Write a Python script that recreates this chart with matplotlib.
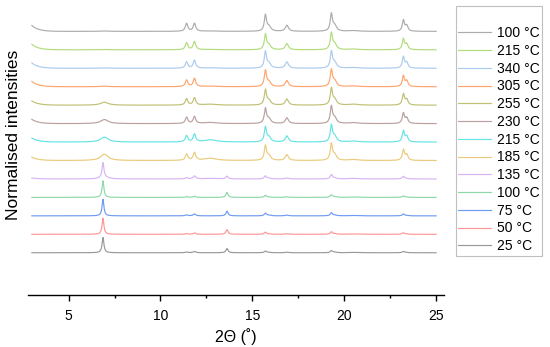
import numpy as np
import matplotlib
matplotlib.use("Agg")
import matplotlib.pyplot as plt
from matplotlib.ticker import MultipleLocator

plt.rcParams['font.family'] = ['Liberation Sans', 'DejaVu Sans']

# series, bottom to top
labels = ["25 °C", "50 °C", "75 °C", "100 °C", "135 °C", "185 °C", "215 °C",
          "230 °C", "255 °C", "305 °C", "340 °C", "215 °C", "100 °C"]
colors = ["#8e8e8e", "#ff8a8a", "#5f90ef", "#82d3a0", "#d3acf2", "#e8c56e", "#55e0e0",
          "#b39696", "#b9b965", "#ff9a5c", "#a2c6ec", "#a8d96c", "#a3a3a3"]

# peak positions (2theta) and half widths
peak_pos = [6.87, 6.95, 11.42, 11.85, 12.70, 13.62, 15.71, 15.90, 16.88, 19.30, 19.48, 20.50, 23.22, 23.40]
peak_hw  = [0.06, 0.25, 0.08, 0.08, 0.40, 0.07, 0.07, 0.12, 0.10, 0.07, 0.12, 0.30, 0.07, 0.08]

# peak heights per series (in units of the trace spacing)
h_25  = [0.83, 0, 0.04, 0.07, 0, 0.23, 0.09, 0.02, 0.03, 0.11, 0.03, 0.02, 0.07, 0.02]
h_50  = [0.87, 0, 0.04, 0.07, 0, 0.25, 0.11, 0.02, 0.03, 0.13, 0.03, 0.02, 0.08, 0.02]
h_75  = [0.90, 0, 0.05, 0.10, 0, 0.25, 0.14, 0.03, 0.04, 0.16, 0.04, 0.02, 0.10, 0.02]
h_100 = [0.90, 0, 0.04, 0.06, 0, 0.27, 0.11, 0.02, 0.03, 0.14, 0.03, 0.02, 0.08, 0.02]
h_135 = [0.80, 0.10, 0.07, 0.16, 0.03, 0.15, 0.16, 0.04, 0.05, 0.23, 0.05, 0.03, 0.14, 0.03]
h_185 = [0, 0.34, 0.34, 0.42, 0.12, 0, 0.78, 0.25, 0.31, 0.87, 0.30, 0.05, 0.58, 0.30]
h_215 = [0, 0.27, 0.34, 0.42, 0.12, 0, 0.78, 0.25, 0.33, 0.88, 0.30, 0.05, 0.60, 0.30]
h_230 = [0, 0.22, 0.34, 0.38, 0.06, 0, 0.80, 0.25, 0.31, 0.90, 0.30, 0.05, 0.56, 0.30]
h_255 = [0, 0.16, 0.34, 0.40, 0.05, 0, 0.81, 0.25, 0.33, 0.88, 0.30, 0.05, 0.60, 0.30]
h_305 = [0, 0.03, 0.36, 0.45, 0.03, 0, 0.85, 0.25, 0.33, 0.88, 0.30, 0.04, 0.58, 0.30]
h_340 = [0, 0.02, 0.34, 0.43, 0.02, 0, 0.88, 0.25, 0.34, 0.88, 0.30, 0.04, 0.61, 0.30]
h_215b = [0, 0.02, 0.38, 0.45, 0.02, 0, 0.81, 0.25, 0.33, 0.88, 0.30, 0.04, 0.58, 0.30]
h_100b = [0, 0.02, 0.43, 0.43, 0.02, 0, 0.87, 0.25, 0.33, 0.92, 0.30, 0.04, 0.60, 0.30]
heights = [h_25, h_50, h_75, h_100, h_135, h_185, h_215, h_230, h_255, h_305, h_340, h_215b, h_100b]

# low-angle background rise at 3 degrees, per series
left_rise = [0.0, 0.0, 0.0, 0.0, 0.05, 0.18, 0.22, 0.23, 0.23, 0.29, 0.29, 0.30, 0.32]

x = np.linspace(3, 25, 2201)

fig = plt.figure(figsize=(5.5, 3.47), dpi=100)
ax = fig.add_axes([28 / 550, 52 / 347, 416 / 550, 290 / 347])

lines = []
for i, (hs, c, lab) in enumerate(zip(heights, colors, labels)):
    y = np.zeros_like(x) + i
    for p, w, h in zip(peak_pos, peak_hw, hs):
        y += h * w**2 / ((x - p)**2 + w**2)
    y += left_rise[i] * np.exp(-(x - 3) / 0.35)
    ln, = ax.plot(x, y, color=c, lw=0.85, alpha=0.9, label=lab)
    lines.append(ln)

ax.set_xlim(2.79, 25.43)
ax.set_ylim(-2.29, 13.43)
for s in ["left", "right", "top"]:
    ax.spines[s].set_visible(False)
ax.spines["bottom"].set_linewidth(1.0)
ax.set_yticks([])
ax.xaxis.set_major_locator(MultipleLocator(5))
ax.xaxis.set_minor_locator(MultipleLocator(2.5))
ax.tick_params(axis='x', which='major', length=4, width=1.0, labelsize=10, pad=6)
ax.tick_params(axis='x', which='minor', length=2.5, width=1.0)
ax.set_xlabel("2Θ (˚)", fontsize=11.5, labelpad=4)
ax.set_ylabel("Normalised intensities", fontsize=12.5)
ax.yaxis.set_label_coords(-0.018, 0.552)

leg = fig.legend(lines[::-1], labels[::-1], loc='upper left',
                 bbox_to_anchor=(455.7 / 550, 1 - 5.7 / 347), borderaxespad=0,
                 title=" ", fontsize=10, title_fontsize=10, frameon=True, fancybox=False,
                 edgecolor="#b0b0b0", handlelength=2.35, handletextpad=0.4,
                 labelspacing=0.27, borderpad=0.2)
leg.get_frame().set_linewidth(0.8)

fig.savefig("out.png", dpi=100)
